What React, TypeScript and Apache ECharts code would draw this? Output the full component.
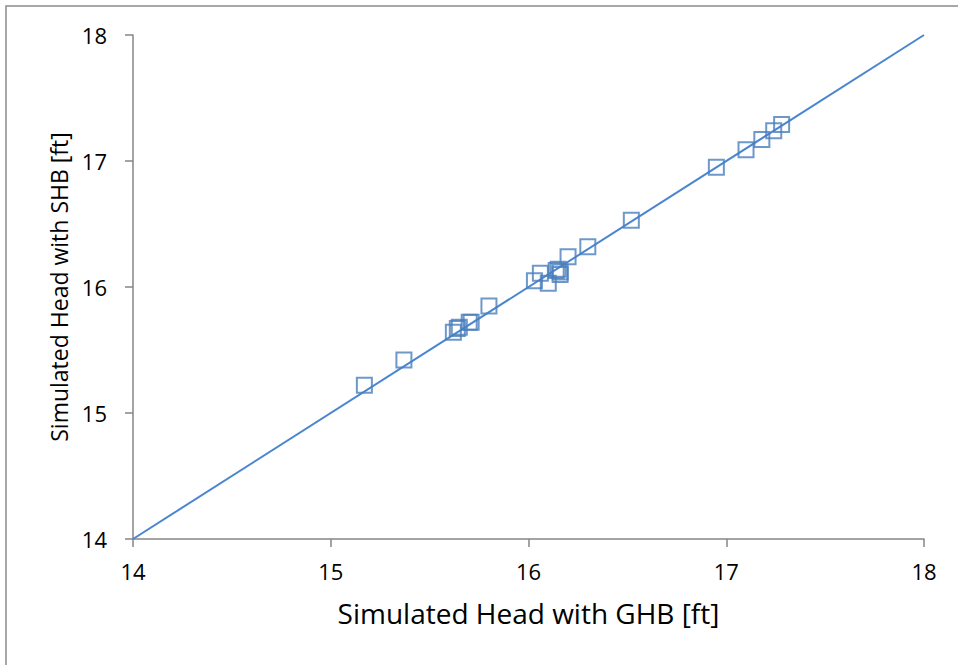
import React, { useEffect, useRef } from "react";
import * as echarts from "echarts";

const ghbHead = [15.17, 15.37, 15.62, 15.64, 15.65, 15.70, 15.71, 15.80, 16.03, 16.06, 16.10, 16.14, 16.15, 16.16, 16.16, 16.20, 16.30, 16.52, 16.95, 17.10, 17.18, 17.24, 17.28];
const shbHead = [15.22, 15.42, 15.64, 15.67, 15.68, 15.72, 15.72, 15.85, 16.05, 16.11, 16.03, 16.13, 16.14, 16.10, 16.12, 16.24, 16.32, 16.53, 16.95, 17.09, 17.17, 17.24, 17.29];
const oneToOne = [14, 18];
const xTitle = "Simulated Head with GHB [ft]";
const yTitle = "Simulated Head with SHB [ft]";

export default function App() {
  const ref = useRef<HTMLDivElement>(null);
  useEffect(() => {
    document.body.style.margin = "0";
    const chart = echarts.init(ref.current!, null, { renderer: "svg" });
    const axisColor = "#868686";
    const font = "Open Sans";
    chart.setOption({
      animation: false,
      backgroundColor: "#ffffff",
      graphic: [
        {
          type: "rect",
          shape: { x: 6, y: 6, width: 1000, height: 700 },
          style: { fill: "none", stroke: "#8c8c8c", lineWidth: 1.5 },
          silent: true,
        },
      ],
      grid: { left: 133, top: 35, right: 34, bottom: 126, containLabel: false },
      xAxis: {
        type: "value",
        min: 14,
        max: 18,
        interval: 1,
        name: xTitle,
        nameLocation: "middle",
        nameGap: 60,
        nameTextStyle: { fontFamily: font, fontSize: 28, color: "#000" },
        axisLine: { show: true, lineStyle: { color: axisColor, width: 1.5 } },
        axisTick: { show: true, inside: false, length: 8, lineStyle: { color: axisColor, width: 1.5 } },
        axisLabel: { fontFamily: font, fontSize: 22, color: "#000", margin: 21 },
        splitLine: { show: false },
      },
      yAxis: {
        type: "value",
        min: 14,
        max: 18,
        interval: 1,
        name: yTitle,
        nameLocation: "middle",
        nameGap: 62,
        nameRotate: 90,
        nameTextStyle: { fontFamily: font, fontSize: 23, color: "#000" },
        axisLine: { show: true, lineStyle: { color: axisColor, width: 1.5 } },
        axisTick: { show: true, inside: false, length: 8, lineStyle: { color: axisColor, width: 1.5 } },
        axisLabel: { fontFamily: font, fontSize: 22, color: "#000", margin: 26 },
        splitLine: { show: false },
      },
      series: [
        {
          type: "line",
          data: oneToOne.map((v) => [v, v]),
          showSymbol: false,
          symbol: "none",
          lineStyle: { color: "#4a86d0", width: 2 },
          silent: true,
          z: 2,
        },
        {
          type: "scatter",
          data: ghbHead.map((x, i) => [x, shbHead[i]]),
          symbol: "rect",
          symbolSize: 15,
          itemStyle: { color: "rgba(0,0,0,0)", borderColor: "#4a7ebb", borderWidth: 2 },
          z: 3,
        },
      ],
    });
    return () => chart.dispose();
  }, []);
  return <div ref={ref} style={{ width: 958, height: 665, position: "absolute", left: 0, top: 0 }} />;
}
